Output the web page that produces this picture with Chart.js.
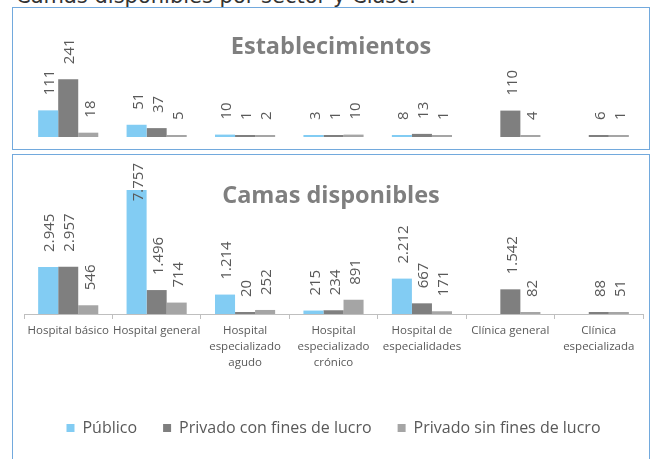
<!DOCTYPE html>
<html lang="es">
<head>
    <meta charset="UTF-8">
    <title>Camas disponibles por sector y clase</title>
    <script src="https://cdn.jsdelivr.net/npm/chart.js"></script>
    <style>
        body {
            margin: 0;
            width: 658px;
            height: 459px;
            overflow: hidden;
            background: #fff;
            position: relative;
        }
        #heading {
            position: absolute;
            left: 16px;
            top: -14px;
            font: 21px/21px "DejaVu Sans", sans-serif;
            color: #333;
            white-space: nowrap;
        }
        .panel {
            position: absolute;
            left: 12px;
            width: 638px;
            border: 1.5px solid #72A9DD;
            box-sizing: border-box;
        }
        #box1 { top: 7px; height: 143px; }
        #box2 { top: 154px; height: 320px; }
        canvas { position: absolute; left: 12px; }
        #estChart { top: 7px; }
        #camasChart { top: 154px; }
    </style>
</head>
<body>
    <div id="heading">Camas disponibles por sector y Clase.</div>
    <div class="panel" id="box1"></div>
    <div class="panel" id="box2"></div>
    <canvas id="estChart" width="638" height="142"></canvas>
    <canvas id="camasChart" width="638" height="305"></canvas>

    <script>
        // categories
        const categories = [
            ["Hospital básico"],
            ["Hospital general"],
            ["Hospital", "especializado", "agudo"],
            ["Hospital", "especializado", "crónico"],
            ["Hospital de", "especialidades"],
            ["Clínica general"],
            ["Clínica", "especializada"]
        ];
        const seriesNames = ["Público", "Privado con fines de lucro", "Privado sin fines de lucro"];
        const seriesColors = ["#82CCF3", "#7F7F7F", "#A5A5A5"];

        // Establecimientos
        const estPublico = [111, 51, 10, 3, 8, null, null];
        const estPrivadoCon = [241, 37, 1, 1, 13, 110, 6];
        const estPrivadoSin = [18, 5, 2, 10, 1, 4, 1];

        // Camas disponibles
        const camasPublico = [2945, 7757, 1214, 215, 2212, null, null];
        const camasPrivadoCon = [2957, 1496, 20, 234, 667, 1542, 88];
        const camasPrivadoSin = [546, 714, 252, 891, 171, 82, 51];

        Chart.defaults.font.family = "'Open Sans', sans-serif";
        Chart.defaults.color = "#595959";

        // 1234 -> 1.234
        function fmt(v) {
            return String(v).replace(/\B(?=(\d{3})+(?!\d))/g, ".");
        }

        // vertical value labels + chart title
        const barLabels = {
            id: "barLabels",
            afterDatasetsDraw(chart, args, opts) {
                const ctx = chart.ctx;
                ctx.save();
                ctx.font = "15px 'Open Sans', sans-serif";
                ctx.fillStyle = "#595959";
                ctx.textBaseline = "middle";
                ctx.textAlign = "left";
                chart.data.datasets.forEach((ds, i) => {
                    chart.getDatasetMeta(i).data.forEach((bar, j) => {
                        const v = ds.data[j];
                        if (v == null) return;
                        const text = fmt(v);
                        const w = ctx.measureText(text).width;
                        let y0 = bar.y - opts.gap;
                        if (y0 - w < opts.minY) y0 = opts.minY + w;
                        ctx.save();
                        ctx.translate(bar.x + 2, y0);
                        ctx.rotate(-Math.PI / 2);
                        ctx.fillText(text, 0, 0);
                        ctx.restore();
                    });
                });
                ctx.font = "bold 23.5px 'Open Sans', sans-serif";
                ctx.fillStyle = "#7F7F7F";
                ctx.textAlign = "center";
                ctx.textBaseline = "alphabetic";
                ctx.fillText(opts.title, chart.width / 2, opts.titleY);
                ctx.restore();
            }
        };

        function makeDatasets(a, b, c) {
            return [a, b, c].map((d, i) => ({
                label: seriesNames[i],
                data: d,
                backgroundColor: seriesColors[i],
                categoryPercentage: 0.68,
                barPercentage: 1,
                minBarLength: 2
            }));
        }

        // Establecimientos chart
        new Chart(document.getElementById("estChart"), {
            type: "bar",
            data: {
                labels: categories,
                datasets: makeDatasets(estPublico, estPrivadoCon, estPrivadoSin)
            },
            options: {
                responsive: false,
                animation: false,
                layout: { padding: { left: 12, right: 7, top: 58, bottom: 12 } },
                scales: {
                    x: { display: false },
                    y: { display: false, min: 0, max: 300 }
                },
                plugins: {
                    legend: { display: false },
                    tooltip: { enabled: false },
                    barLabels: { title: "Establecimientos", titleY: 47, gap: 15, minY: 0 }
                }
            },
            plugins: [barLabels]
        });

        // Camas disponibles chart
        new Chart(document.getElementById("camasChart"), {
            type: "bar",
            data: {
                labels: categories,
                datasets: makeDatasets(camasPublico, camasPrivadoCon, camasPrivadoSin)
            },
            options: {
                responsive: false,
                animation: false,
                layout: { padding: { left: 12, right: 7, top: 32, bottom: 13 } },
                scales: {
                    x: {
                        grid: { drawOnChartArea: false, tickLength: 5, color: "#BFBFBF" },
                        border: { color: "#BFBFBF" },
                        ticks: {
                            autoSkip: false,
                            maxRotation: 0,
                            padding: 4,
                            color: "#595959",
                            font: { size: 11.5, lineHeight: 1.39 }
                        },
                        afterFit(scale) { scale.height = 80; }
                    },
                    y: { display: false, min: 0, max: 8000 }
                },
                plugins: {
                    legend: {
                        position: "bottom",
                        labels: {
                            boxWidth: 8,
                            boxHeight: 8,
                            padding: 26,
                            color: "#595959",
                            font: { size: 16 }
                        }
                    },
                    tooltip: { enabled: false },
                    barLabels: { title: "Camas disponibles", titleY: 49, gap: 15, minY: 9 }
                }
            },
            plugins: [barLabels]
        });
    </script>
</body>
</html>
